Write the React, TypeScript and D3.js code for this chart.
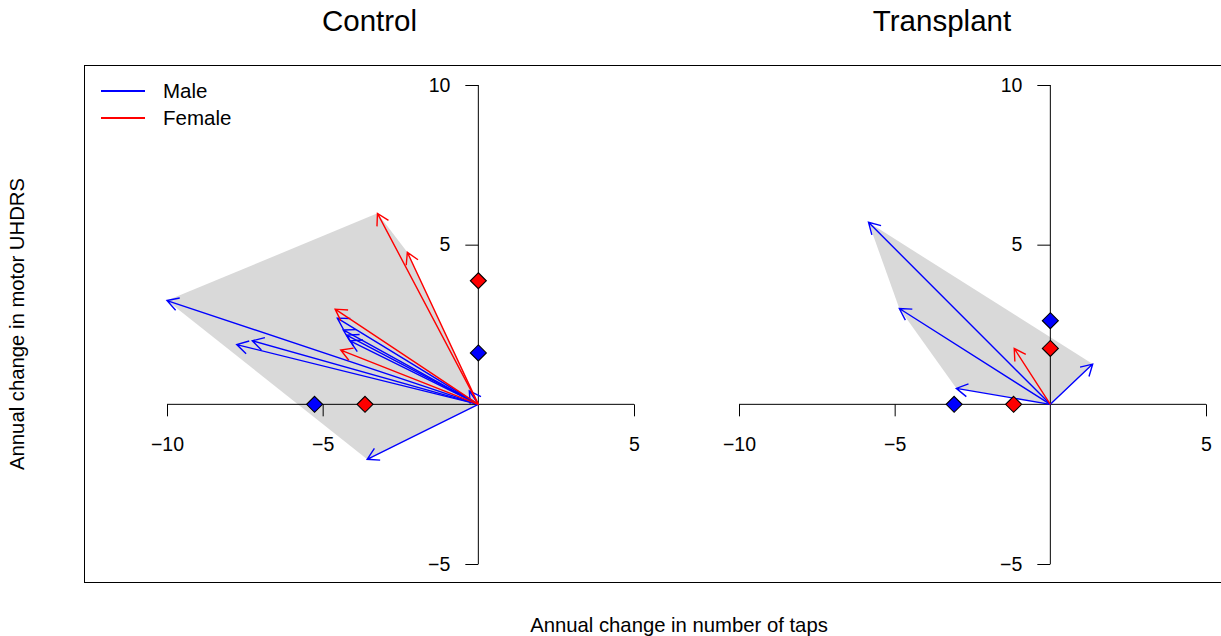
import { useEffect, useRef } from 'react';
import * as d3 from 'd3';

const FONT = '"Liberation Sans", Arial, Helvetica, sans-serif';

// panel titles and legend
const panelTitles = ['Control', 'Transplant'];
const sexLabels = ['Male', 'Female'];
const sexColors = ['#0000ff', '#ff0000'];

// axis ticks (0 is not labelled)
const xTicks = [-10, -5, 5];
const yTicks = [-5, 5, 10];

// Control: annual change per subject (taps, motor UHDRS)
const ctrlMaleDx = [-10.0, -7.76, -7.26, -4.53, -4.34, -4.23, -4.12, -3.57, -0.29];
const ctrlMaleDy = [3.25, 1.87, 1.99, 2.7, 2.33, 2.17, 1.99, -1.72, 0.42];
const ctrlFemaleDx = [-3.24, -2.28, -4.6, -4.42];
const ctrlFemaleDy = [5.98, 4.76, 2.98, 1.7];

// Transplant
const txMaleDx = [-5.84, -4.85, -3.02, 1.36];
const txMaleDy = [5.7, 3.0, 0.5, 1.26];
const txFemaleDx = [-1.16];
const txFemaleDy = [1.75];

// group means (male, female) shown as diamonds on the axes
const ctrlMeanX = [-5.26, -3.64];
const ctrlMeanY = [1.61, 3.87];
const txMeanX = [-3.09, -1.18];
const txMeanY = [2.62, 1.75];

const App = () => {
    const svgRef = useRef(null);

    useEffect(() => {
        const svg = d3.select(svgRef.current);
        svg.selectAll('*').remove();

        const panels = [
            {
                title: panelTitles[0], xr: [167, 634], cx: 369.5,
                dx: [ctrlMaleDx, ctrlFemaleDx], dy: [ctrlMaleDy, ctrlFemaleDy],
                mx: ctrlMeanX, my: ctrlMeanY,
            },
            {
                title: panelTitles[1], xr: [739, 1206], cx: 942,
                dx: [txMaleDx, txFemaleDx], dy: [txMaleDy, txFemaleDy],
                mx: txMeanX, my: txMeanY,
            },
        ];

        // frame around both panels (right edge falls off the page)
        svg.append('rect')
            .attr('x', 84.5).attr('y', 65.5)
            .attr('width', 1160).attr('height', 517)
            .attr('fill', 'none').attr('stroke', '#000').attr('stroke-width', 1);

        panels.forEach(p => {
            const x = d3.scaleLinear().domain([-10, 5]).range(p.xr);
            const y = d3.scaleLinear().domain([-5, 10]).range([564, 85]);
            const g = svg.append('g');

            // convex hull of arrow tips plus origin
            const pts: [number, number][] = [[x(0), y(0)]];
            p.dx.forEach((arr, s) => arr.forEach((v, i) => pts.push([x(v), y(p.dy[s][i])])));
            const hull = d3.polygonHull(pts);
            if (hull) {
                g.append('path')
                    .attr('d', 'M' + hull.join('L') + 'Z')
                    .attr('fill', '#d9d9d9');
            }

            // axes through the origin
            const xAxis = g.append('g')
                .attr('transform', `translate(0,${y(0)})`)
                .call(d3.axisBottom(x).tickValues(xTicks).tickSize(12).tickPadding(21).tickSizeOuter(0));
            xAxis.select('.domain').remove();
            xAxis.append('line')
                .attr('x1', x(-10)).attr('x2', x(5))
                .attr('stroke', '#000');

            const yAxis = g.append('g')
                .attr('transform', `translate(${x(0)},0)`)
                .call(d3.axisLeft(y).tickValues(yTicks).tickSize(13).tickPadding(15).tickSizeOuter(0));
            yAxis.select('.domain').remove();
            yAxis.append('line')
                .attr('y1', y(-5)).attr('y2', y(10))
                .attr('stroke', '#000');

            g.selectAll('.tick text')
                .attr('font-family', FONT).attr('font-size', 19.5).attr('fill', '#000');
            g.selectAll('.tick line').attr('stroke', '#000');

            // arrows
            const headLen = 13;
            const headAng = Math.PI / 6;
            p.dx.forEach((arr, s) => {
                arr.forEach((v, i) => {
                    const x0 = x(0), y0 = y(0);
                    const x1 = x(v), y1 = y(p.dy[s][i]);
                    const a = Math.atan2(y1 - y0, x1 - x0);
                    const b1 = [x1 - headLen * Math.cos(a - headAng), y1 - headLen * Math.sin(a - headAng)];
                    const b2 = [x1 - headLen * Math.cos(a + headAng), y1 - headLen * Math.sin(a + headAng)];
                    g.append('path')
                        .attr('d', `M${x0},${y0}L${x1},${y1}M${b1[0]},${b1[1]}L${x1},${y1}L${b2[0]},${b2[1]}`)
                        .attr('fill', 'none')
                        .attr('stroke', sexColors[s])
                        .attr('stroke-width', 1.4);
                });
            });

            // mean diamonds on the axes
            const d = 8;
            const diamond = (cx: number, cy: number, col: string) => {
                g.append('path')
                    .attr('d', `M${cx},${cy - d}L${cx + d},${cy}L${cx},${cy + d}L${cx - d},${cy}Z`)
                    .attr('fill', col).attr('stroke', '#000').attr('stroke-width', 1.1);
            };
            p.mx.forEach((v, s) => diamond(x(v), y(0), sexColors[s]));
            p.my.forEach((v, s) => diamond(x(0), y(v), sexColors[s]));

            // title
            svg.append('text')
                .attr('x', p.cx).attr('y', 31)
                .attr('text-anchor', 'middle')
                .attr('font-family', FONT).attr('font-size', 29.5)
                .text(p.title);
        });

        // legend
        sexLabels.forEach((lab, i) => {
            const ly = 91 + i * 27;
            svg.append('line')
                .attr('x1', 101).attr('x2', 145).attr('y1', ly).attr('y2', ly)
                .attr('stroke', sexColors[i]).attr('stroke-width', 2);
            svg.append('text')
                .attr('x', 163).attr('y', ly).attr('dy', '0.35em')
                .attr('font-family', FONT).attr('font-size', 20.5)
                .text(lab);
        });

        // axis titles
        svg.append('text')
            .attr('x', 679).attr('y', 632)
            .attr('text-anchor', 'middle')
            .attr('font-family', FONT).attr('font-size', 20.3)
            .text('Annual change in number of taps');
        svg.append('text')
            .attr('transform', 'translate(24,324) rotate(-90)')
            .attr('text-anchor', 'middle')
            .attr('font-family', FONT).attr('font-size', 20.3)
            .text('Annual change in motor UHDRS');
    }, []);

    return (
        <svg ref={svgRef} width={1221} height={636}
            style={{ position: 'absolute', left: 0, top: 0, display: 'block', background: '#fff' }} />
    );
};

export default App;
